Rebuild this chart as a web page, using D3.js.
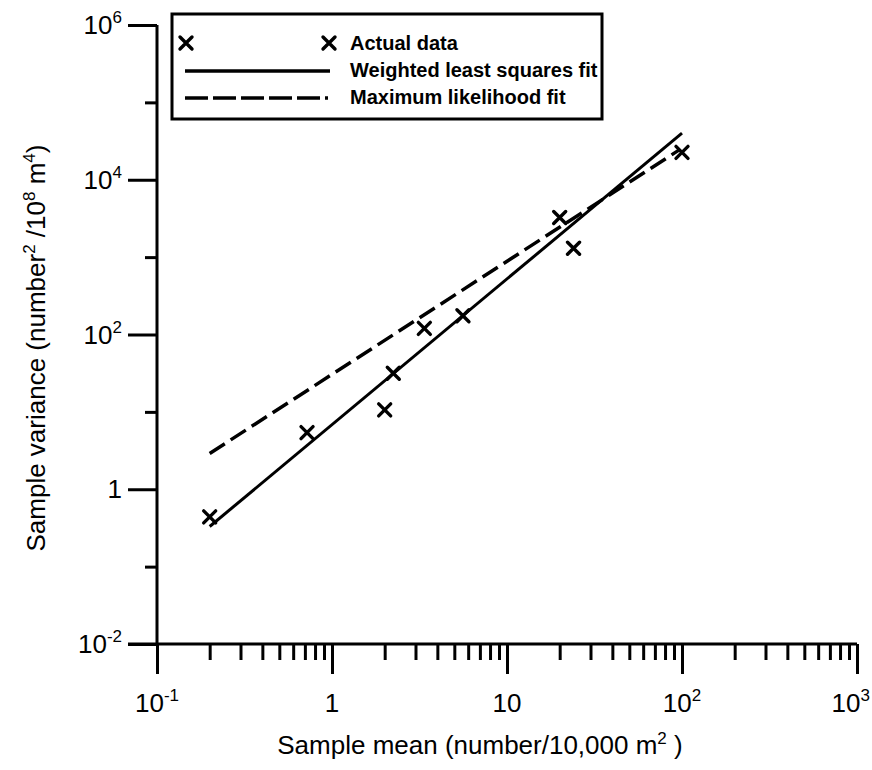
<!DOCTYPE html>
<html>
<head>
<meta charset="utf-8">
<script src="https://cdn.jsdelivr.net/npm/d3@7"></script>
<style>
	body { margin: 0; background: #fff; }
	svg { display: block; font-family: "Liberation Sans", Arial, sans-serif; }
</style>
</head>
<body>
<svg id="viz"></svg>
<script>

	// the data
	var sampleMean = [0.2, 0.72, 2.0, 2.24, 3.37, 5.6, 20, 24, 100];
	var sampleVar = [0.44, 5.4, 10.6, 31.6, 120, 175, 3250, 1300, 22600];

	// fitted lines (end points)
	var wlsMean = [0.2, 100];
	var wlsVar = [0.33, 40000];
	var mlMean = [0.2, 97];
	var mlVar = [2.9, 24500];

	// tick labels
	var xMajor = [0.1, 1, 10, 100, 1000];
	var xLabels = [["10", "-1"], ["1", ""], ["10", ""], ["10", "2"], ["10", "3"]];
	var yMajor = [1e6, 1e4, 1e2, 1, 1e-2];
	var yMinor = [1e5, 1e3, 1e1, 1e-1];
	var yLabels = [["10", "6"], ["10", "4"], ["10", "2"], ["1", ""], ["10", "-2"]];

	var legendItems = ["Actual data", "Weighted least squares fit", "Maximum likelihood fit"];



	// set up the svg
	var w = 872;
	var h = 770;
	var viz = d3.select("#viz").attr("width", w).attr("height", h);

	var x = d3.scaleLog().domain([0.1, 1000]).range([157, 857]);
	var y = d3.scaleLog().domain([0.01, 1e6]).range([644, 25]);

	// minor x ticks: 2..9 in every decade
	var xMinor = [];
	xMajor.slice(0, -1).forEach(function(d) {
		for (var k = 2; k <= 9; k++) xMinor.push(d * k);
	});



	// axes
	var xMinG = viz.append("g").attr("transform", "translate(0," + y(0.01) + ")");
	xMinG.call(d3.axisBottom(x).tickValues(xMinor).tickSize(16).tickFormat("").tickSizeOuter(0));
	xMinG.select(".domain").remove();
	var xMajG = viz.append("g").attr("transform", "translate(0," + y(0.01) + ")");
	xMajG.call(d3.axisBottom(x).tickValues(xMajor).tickSize(30).tickFormat("").tickSizeOuter(0));
	xMajG.select(".domain").remove();

	var yMinG = viz.append("g").attr("transform", "translate(" + x(0.1) + ",0)");
	yMinG.call(d3.axisLeft(y).tickValues(yMinor).tickSize(12).tickFormat("").tickSizeOuter(0));
	yMinG.select(".domain").remove();
	var yMajG = viz.append("g").attr("transform", "translate(" + x(0.1) + ",0)");
	yMajG.call(d3.axisLeft(y).tickValues(yMajor).tickSize(29).tickFormat("").tickSizeOuter(0));
	yMajG.select(".domain").remove();

	viz.selectAll(".tick line").attr("stroke", "#000").attr("stroke-width", 3);

	// axis lines
	viz.append("line")
		.attr("x1", x(0.1) - 29).attr("x2", x(1000))
		.attr("y1", y(0.01)).attr("y2", y(0.01))
		.attr("stroke", "#000").attr("stroke-width", 3);
	viz.append("line")
		.attr("x1", x(0.1)).attr("x2", x(0.1))
		.attr("y1", y(1e6)).attr("y2", y(0.01))
		.attr("stroke", "#000").attr("stroke-width", 3);



	// tick labels
	var xt = viz.selectAll("text.xlab")
		.data(xMajor)
		.enter()
		.append("text")
		.attr("class", "xlab")
		.attr("x", function(d, i) { return i == xMajor.length - 1 ? 870 : x(d); })
		.attr("y", 712)
		.attr("text-anchor", function(d, i) { return i == xMajor.length - 1 ? "end" : "middle"; })
		.attr("font-size", 26);
	xt.append("tspan").text(function(d, i) { return xLabels[i][0]; });
	xt.append("tspan").attr("dy", -11).attr("font-size", 17).text(function(d, i) { return xLabels[i][1]; });

	var yt = viz.selectAll("text.ylab")
		.data(yMajor)
		.enter()
		.append("text")
		.attr("class", "ylab")
		.attr("x", 122)
		.attr("y", function(d) { return y(d) + 9; })
		.attr("text-anchor", "end")
		.attr("font-size", 26);
	yt.append("tspan").text(function(d, i) { return yLabels[i][0]; });
	yt.append("tspan").attr("dy", -11).attr("font-size", 17).text(function(d, i) { return yLabels[i][1]; });



	// axis titles
	var xTitle = viz.append("text")
		.attr("x", 480).attr("y", 754)
		.attr("text-anchor", "middle")
		.attr("font-size", 26);
	xTitle.append("tspan").text("Sample mean (number/10,000 m");
	xTitle.append("tspan").attr("dy", -10).attr("font-size", 17).text("2");
	xTitle.append("tspan").attr("dy", 10).text(" )");

	var yTitle = viz.append("text")
		.attr("transform", "translate(45,348) rotate(-90)")
		.attr("text-anchor", "middle")
		.attr("font-size", 26);
	yTitle.append("tspan").text("Sample variance (number");
	yTitle.append("tspan").attr("dy", -10).attr("font-size", 17).text("2");
	yTitle.append("tspan").attr("dy", 10).text(" /10");
	yTitle.append("tspan").attr("dy", -10).attr("font-size", 17).text("8");
	yTitle.append("tspan").attr("dy", 10).text(" m");
	yTitle.append("tspan").attr("dy", -10).attr("font-size", 17).text("4");
	yTitle.append("tspan").attr("dy", 10).text(")");



	// fitted lines
	var line = d3.line()
		.x(function(d) { return x(d[0]); })
		.y(function(d) { return y(d[1]); });

	viz.append("path")
		.attr("d", line(d3.zip(wlsMean, wlsVar)))
		.attr("fill", "none").attr("stroke", "#000").attr("stroke-width", 3);

	viz.append("path")
		.attr("d", line(d3.zip(mlMean, mlVar)))
		.attr("fill", "none").attr("stroke", "#000").attr("stroke-width", 3.5)
		.attr("stroke-dasharray", "18,7");



	// the crosses
	var cross = "M-6,-6L6,6M6,-6L-6,6";
	viz.selectAll("path.pt")
		.data(d3.zip(sampleMean, sampleVar))
		.enter()
		.append("path")
		.attr("class", "pt")
		.attr("d", cross)
		.attr("transform", function(d) { return "translate(" + x(d[0]) + "," + y(d[1]) + ")"; })
		.attr("stroke", "#000").attr("stroke-width", 3.4).attr("stroke-linecap", "round");



	// legend
	var lg = viz.append("g");
	lg.append("rect")
		.attr("x", 172).attr("y", 14).attr("width", 430).attr("height", 105)
		.attr("fill", "#fff").attr("stroke", "#000").attr("stroke-width", 3);

	lg.selectAll("path.lpt")
		.data([186, 329])
		.enter()
		.append("path")
		.attr("d", cross)
		.attr("transform", function(d) { return "translate(" + d + ",43)"; })
		.attr("stroke", "#000").attr("stroke-width", 3.4).attr("stroke-linecap", "round");

	lg.append("line")
		.attr("x1", 185).attr("x2", 330).attr("y1", 71).attr("y2", 71)
		.attr("stroke", "#000").attr("stroke-width", 3.5);
	lg.append("line")
		.attr("x1", 185).attr("x2", 330).attr("y1", 98).attr("y2", 98)
		.attr("stroke", "#000").attr("stroke-width", 3.5)
		.attr("stroke-dasharray", "23,5,23,5,23,5,23,5,23,5,3,40");

	lg.selectAll("text")
		.data(legendItems)
		.enter()
		.append("text")
		.text(function(d) { return d; })
		.attr("x", 350)
		.attr("y", function(d, i) { return 50 + i * 27; })
		.attr("font-size", 20)
		.attr("font-weight", "bold");

</script>
</body>
</html>
